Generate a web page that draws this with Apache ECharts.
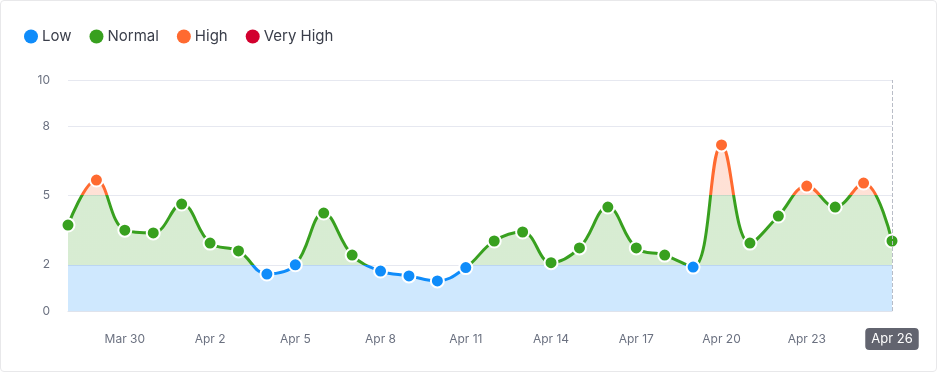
<!DOCTYPE html>
<html>
<head>
<meta charset="utf-8">
<script src="https://cdn.jsdelivr.net/npm/echarts@6/dist/echarts.min.js"></script>
<style>
  html, body { margin: 0; padding: 0; background: #fff; }
  #wrap { width: 937px; height: 372px; box-sizing: border-box; border: 1px solid #e8e8ea; border-radius: 4px; overflow: hidden; }
  #chart { width: 935px; height: 370px; }
</style>
</head>
<body>
<div id="wrap"><div id="chart"></div></div>
<script>
const categories = ['Mar 28','Mar 29','Mar 30','Mar 31','Apr 1','Apr 2','Apr 3','Apr 4','Apr 5','Apr 6',
  'Apr 7','Apr 8','Apr 9','Apr 10','Apr 11','Apr 12','Apr 13','Apr 14','Apr 15','Apr 16',
  'Apr 17','Apr 18','Apr 19','Apr 20','Apr 21','Apr 22','Apr 23','Apr 24','Apr 25','Apr 26'];
const values = [3.72, 5.67, 3.5, 3.38, 4.63, 2.94, 2.6, 1.6, 2.0, 4.24,
  2.42, 1.73, 1.52, 1.3, 1.88, 3.03, 3.42, 2.09, 2.73, 4.5,
  2.73, 2.42, 1.9, 7.19, 2.94, 4.11, 5.41, 4.5, 5.54, 3.03];
const yTicks = [0, 2, 5, 8, 10];
const levelNames = ['Low', 'Normal', 'High', 'Very High'];
const levelBounds = [2, 5, 8];
const levelColors = ['#0f8cfa', '#38a01f', '#ff6a30', '#d2002e'];
const highlighted = 'Apr 26';

const chart = echarts.init(document.getElementById('chart'));
const font = 'Inter, "Noto Sans", sans-serif';

const pieces = [
  { lte: levelBounds[0], label: levelNames[0], color: levelColors[0] },
  { gt: levelBounds[0], lte: levelBounds[1], label: levelNames[1], color: levelColors[1] },
  { gt: levelBounds[1], lte: levelBounds[2], label: levelNames[2], color: levelColors[2] },
  { gt: levelBounds[2], label: levelNames[3], color: levelColors[3] }
];

chart.setOption({
  animation: false,
  textStyle: { fontFamily: font },
  grid: { left: 67, right: 44, top: 79, bottom: 60 },
  visualMap: {
    type: 'piecewise',
    seriesIndex: 0,
    dimension: 1,
    orient: 'horizontal',
    left: 8,
    top: 13,
    itemWidth: 14,
    itemHeight: 14,
    itemGap: 18,
    textGap: 4,
    itemSymbol: 'circle',
    selectedMode: false,
    pieces: pieces,
    textStyle: { color: '#3a3e4a', fontSize: 15, fontFamily: font }
  },
  xAxis: {
    type: 'category',
    data: categories,
    boundaryGap: false,
    axisLine: { show: true, lineStyle: { color: '#dfe3ec' } },
    axisTick: { show: false },
    axisLabel: {
      color: '#6b7180', fontSize: 12, margin: 22,
      interval: (idx) => (idx - 2) % 3 === 0
    },
    splitLine: { show: false },
    axisPointer: {
      show: true,
      value: highlighted,
      status: 'show',
      type: 'line',
      lineStyle: { type: 'dashed', color: '#b9bdc7', width: 1 },
      label: {
        show: true, backgroundColor: '#62646f', color: '#fff', fontSize: 13,
        borderRadius: 4, padding: [5, 6, 4, 6], margin: 17, fontFamily: font
      },
      handle: { show: false }
    }
  },
  yAxis: {
    type: 'value',
    min: 0,
    max: 10,
    axisLine: { show: false },
    axisTick: { show: false, customValues: yTicks },
    axisLabel: { color: '#6b7180', fontSize: 12, margin: 18, customValues: yTicks },
    splitLine: { show: true, lineStyle: { color: '#e6e8f0' } }
  },
  series: [{
    type: 'line',
    data: values,
    smooth: 0.4,
    symbol: 'circle',
    symbolSize: 13,
    showAllSymbol: true,
    lineStyle: { width: 3, cap: 'round' },
    itemStyle: { borderColor: '#fff', borderWidth: 2 },
    areaStyle: { opacity: 0.2, origin: 'start' },
    z: 3
  }]
});
</script>
</body>
</html>
